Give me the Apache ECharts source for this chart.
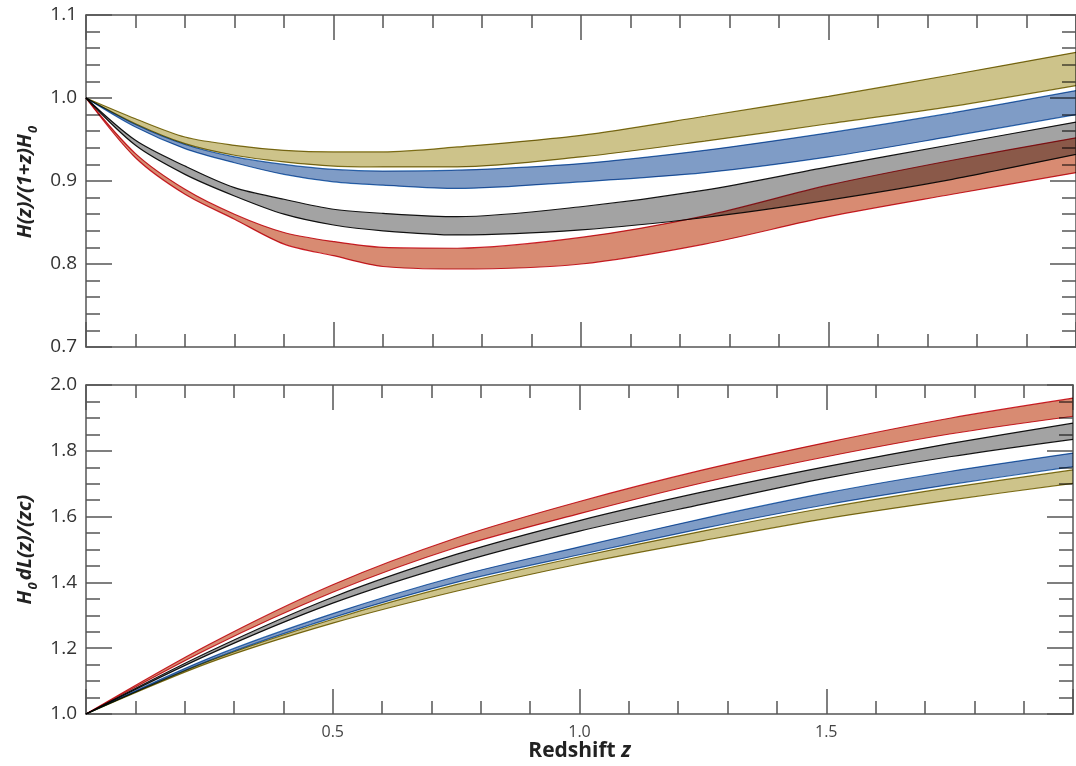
<!DOCTYPE html>
<html>
<head>
<meta charset="utf-8">
<script src="https://cdn.jsdelivr.net/npm/echarts@6/dist/echarts.min.js"></script>
<style>html,body{margin:0;padding:0;background:#fff}#c{width:1076px;height:766px}</style>
</head>
<body>
<div id="c"></div>
<script>
// ---- Top panel: H(z)/(1+z)H0 ----
const zTop = [0, 0.1, 0.2, 0.3, 0.4, 0.5, 0.6, 0.75, 1.0, 1.25, 1.5, 1.75, 2.0];
const hOliveLo = [1.0, 0.969, 0.945, 0.931, 0.923, 0.918, 0.917, 0.917, 0.929, 0.948, 0.969, 0.990, 1.015];
const hOliveHi = [1.0, 0.975, 0.953, 0.943, 0.937, 0.935, 0.935, 0.941, 0.955, 0.978, 1.002, 1.028, 1.055];
const hBlueLo  = [1.0, 0.965, 0.939, 0.922, 0.908, 0.899, 0.895, 0.891, 0.899, 0.910, 0.929, 0.954, 0.980];
const hBlueHi  = [1.0, 0.968, 0.944, 0.929, 0.920, 0.914, 0.912, 0.913, 0.921, 0.937, 0.958, 0.982, 1.009];
const hBlackLo = [1.0, 0.943, 0.908, 0.882, 0.860, 0.847, 0.840, 0.835, 0.841, 0.856, 0.877, 0.902, 0.932];
const hBlackHi = [1.0, 0.949, 0.918, 0.892, 0.878, 0.866, 0.861, 0.857, 0.869, 0.889, 0.917, 0.944, 0.971];
const hRedLo   = [1.0, 0.928, 0.884, 0.854, 0.824, 0.810, 0.797, 0.794, 0.800, 0.824, 0.857, 0.884, 0.910];
const hRedHi   = [1.0, 0.933, 0.890, 0.860, 0.838, 0.827, 0.820, 0.819, 0.832, 0.858, 0.895, 0.925, 0.952];

// ---- Bottom panel: H0 dL(z)/(zc) ----
const zBot = [0, 0.25, 0.5, 0.75, 1.0, 1.25, 1.5, 1.75, 2.0];
const dRedLo   = [1, 1.200, 1.370, 1.506, 1.609, 1.703, 1.782, 1.851, 1.905];
const dRedHi   = [1, 1.212, 1.393, 1.535, 1.646, 1.742, 1.825, 1.899, 1.960];
const dBlackLo = [1, 1.182, 1.337, 1.458, 1.556, 1.638, 1.717, 1.782, 1.835];
const dBlackHi = [1, 1.190, 1.355, 1.485, 1.588, 1.675, 1.752, 1.822, 1.884];
const dBlueLo  = [1, 1.163, 1.293, 1.400, 1.484, 1.564, 1.636, 1.697, 1.752];
const dBlueHi  = [1, 1.170, 1.305, 1.418, 1.508, 1.594, 1.672, 1.737, 1.793];
const dOliveLo = [1, 1.156, 1.276, 1.373, 1.456, 1.527, 1.594, 1.650, 1.701];
const dOliveHi = [1, 1.161, 1.288, 1.393, 1.478, 1.556, 1.627, 1.688, 1.742];

const xTicks = [0.5, 1.0, 1.5];

const COL = {
  olive: {fill: '#cdc38a', stroke: '#857618'},
  blue:  {fill: '#7f9cc6', stroke: '#2f6fb6'},
  black: {fill: '#a3a3a3', stroke: '#151515'},
  red:   {fill: '#d88b72', stroke: '#d4222c'}
};

function band(name, gi, zs, lo, hi, col) {
  const stack = 'st_' + name + gi;
  const common = {
    type: 'line', xAxisIndex: gi * 2, yAxisIndex: gi * 2, stack: stack,
    dimensions: ['v', 'z'], encode: {x: 'z', y: 'v'},
    symbol: 'none', smooth: 0.3, blendMode: 'multiply', silent: true,
    lineStyle: {color: col.stroke, width: 1.2}
  };
  return [
    Object.assign({}, common, {name: name + '_lo', data: zs.map((z, i) => [lo[i], z])}),
    Object.assign({}, common, {name: name + '_hi',
      data: zs.map((z, i) => [+(hi[i] - lo[i]).toFixed(4), z]),
      areaStyle: {color: col.fill, opacity: 1}})
  ];
}

const axisCol = '#555';
const FONT = 'Open Sans';
function xAx(gi, pos, labels) {
  return {
    type: 'value', gridIndex: gi, position: pos, min: 0, max: 2, interval: 0.5,
    axisLine: {show: true, onZero: false, lineStyle: {color: axisCol, width: 1.5}},
    axisTick: {show: true, inside: true, length: 25, lineStyle: {color: axisCol, width: 1.5}},
    minorTick: {show: true, splitNumber: 5, length: 13, lineStyle: {color: axisCol, width: 1.5}},
    splitLine: {show: false},
    axisLabel: {show: labels, margin: 10, color: '#444', fontSize: 16, fontFamily: FONT,
      formatter: v => xTicks.indexOf(+v.toFixed(1)) >= 0 ? v.toFixed(1) : ''}
  };
}
function yAx(gi, pos, mn, mx, iv, minorSplit, labels, nameRich) {
  const a = {
    type: 'value', gridIndex: gi, position: pos, min: mn, max: mx, interval: iv,
    axisLine: {show: true, onZero: false, lineStyle: {color: axisCol, width: 1.5}},
    axisTick: {show: true, inside: true, length: 26, lineStyle: {color: axisCol, width: 1.5}},
    minorTick: {show: true, splitNumber: minorSplit, length: 14, lineStyle: {color: axisCol, width: 1.5}},
    splitLine: {show: false},
    axisLabel: {show: labels, margin: 9, color: '#333', fontSize: 19, fontFamily: FONT,
      formatter: v => v.toFixed(1)}
  };
  if (nameRich) {
    a.name = nameRich;
    a.nameLocation = 'middle';
    a.nameGap = 45;
    a.nameTextStyle = {
      color: '#222', fontFamily: FONT, fontWeight: 'bold', fontStyle: 'italic', fontSize: 20,
      rich: {
        m: {fontFamily: FONT, fontWeight: 'bold', fontStyle: 'italic', fontSize: 20, color: '#222', lineHeight: 26, verticalAlign: 'bottom'},
        s: {fontFamily: FONT, fontWeight: 'bold', fontSize: 13, color: '#222', lineHeight: 16, verticalAlign: 'bottom', padding: [0, 2, -4, 1]}
      }
    };
  }
  return a;
}

const xAxes = [
  xAx(0, 'bottom', false), xAx(0, 'top', false),
  xAx(1, 'bottom', true), xAx(1, 'top', false)
];
xAxes[2].name = '{b|Redshift }{i|z}';
xAxes[2].nameLocation = 'middle';
xAxes[2].nameGap = 25;
xAxes[2].nameTextStyle = {
  verticalAlign: 'top',
  rich: {
    b: {fontFamily: FONT, fontWeight: 'bold', fontSize: 21, color: '#222'},
    i: {fontFamily: FONT, fontWeight: 'bold', fontStyle: 'italic', fontSize: 21, color: '#222'}
  }
};

const yAxes = [
  yAx(0, 'left', 0.7, 1.1, 0.1, 5, true, '{m|H(z)/(1+z)H}{s|0}'),
  yAx(0, 'right', 0.7, 1.1, 0.1, 5, false),
  yAx(1, 'left', 1.0, 2.0, 0.2, 4, true, '{m|H}{s|0}{m|dL(z)/(zc)}'),
  yAx(1, 'right', 1.0, 2.0, 0.2, 4, false)
];

const series = [].concat(
  band('olive', 0, zTop, hOliveLo, hOliveHi, COL.olive),
  band('blue', 0, zTop, hBlueLo, hBlueHi, COL.blue),
  band('black', 0, zTop, hBlackLo, hBlackHi, COL.black),
  band('red', 0, zTop, hRedLo, hRedHi, COL.red),
  band('olive', 1, zBot, dOliveLo, dOliveHi, COL.olive),
  band('blue', 1, zBot, dBlueLo, dBlueHi, COL.blue),
  band('black', 1, zBot, dBlackLo, dBlackHi, COL.black),
  band('red', 1, zBot, dRedLo, dRedHi, COL.red)
);

const chart = echarts.init(document.getElementById('c'), null, {renderer: 'canvas'});
chart.setOption({
  backgroundColor: '#fff',
  animation: false,
  grid: [
    {left: 86, top: 15, width: 994, height: 332},
    {left: 86, top: 385, width: 994, height: 329}
  ],
  xAxis: xAxes,
  yAxis: yAxes,
  series: series
});
</script>
</body>
</html>
